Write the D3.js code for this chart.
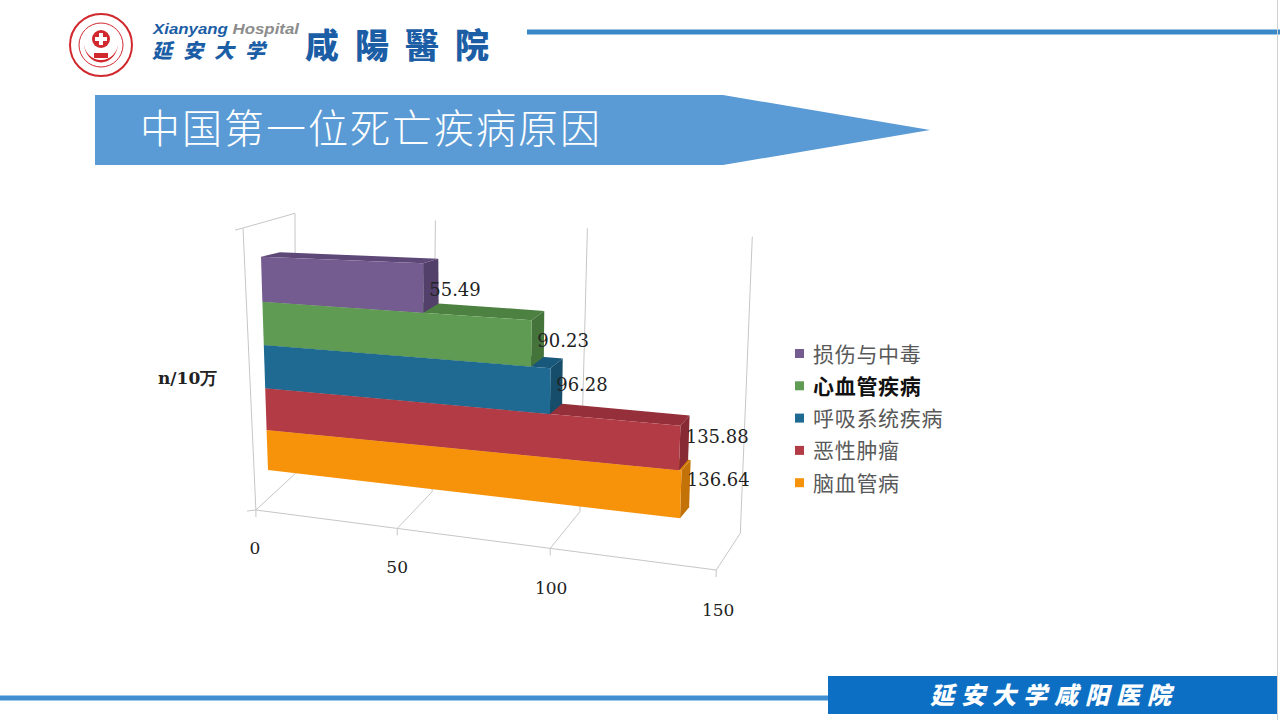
<!DOCTYPE html>
<html>
<head>
<meta charset="utf-8">
<script src="https://cdn.jsdelivr.net/npm/d3@7/dist/d3.min.js"></script>
<style>
body { margin: 0; background: #fff; }
svg { display: block; }
</style>
</head>
<body>
<svg id="svg" width="1280" height="720"></svg>
<script>
// data, bottom bar first
var categories = ["脑血管病", "恶性肿瘤", "呼吸系统疾病", "心血管疾病", "损伤与中毒"];
var values = [136.64, 135.88, 96.28, 90.23, 55.49];
var xTicks = [0, 50, 100, 150];
var unitLabel = "n/10万";
var title = "中国第一位死亡疾病原因";

var frontColors = ["#f7930b", "#b33b46", "#1f6a92", "#5f9b52", "#745b90"];
var topColors = ["#d47d08", "#952f39", "#18587a", "#4c8141", "#5e4878"];
var sideColors = ["#c27206", "#882a34", "#154d6b", "#44743a", "#52406a"];

var svg = d3.select("#svg");

// ---- header ----
var logo = svg.append("g").attr("transform", "translate(101,45)");
logo.append("circle").attr("r", 31).attr("fill", "#fff").attr("stroke", "#d1282e").attr("stroke-width", 2);
logo.append("circle").attr("r", 22).attr("fill", "none").attr("stroke", "#d1282e").attr("stroke-width", 1);
logo.append("path").attr("d", "M-17,-2 A17,17 0 0,0 17,-2 A14,16 0 0,1 -17,-2 Z").attr("fill", "#d1282e");
logo.append("circle").attr("cy", -6).attr("r", 9).attr("fill", "#d1282e");
logo.append("path").attr("d", "M-2,-12h4v4h4v4h-4v4h-4v-4h-4v-4h4z").attr("fill", "#fff");
logo.append("rect").attr("x", -7).attr("y", 8).attr("width", 14).attr("height", 5).attr("fill", "#d1282e");

svg.append("text").attr("x", 153).attr("y", 34)
  .attr("font-family", "Liberation Sans, Arial").attr("font-weight", "bold").attr("font-style", "italic")
  .attr("font-size", 14).attr("fill", "#1b5ea6")
  .attr("textLength", 146).attr("lengthAdjust", "spacingAndGlyphs")
  .text("Xianyang").append("tspan").attr("fill", "#8c8c8c").text(" Hospital");
svg.append("text").attr("x", 152).attr("y", 58)
  .attr("font-family", "Noto Sans CJK SC").attr("font-weight", "900").attr("font-size", 20)
  .attr("font-style", "italic").attr("fill", "#1b5ea6").attr("letter-spacing", 11).text("延安大学");
svg.append("text").attr("x", 305).attr("y", 58)
  .attr("font-family", "Noto Sans CJK TC").attr("font-weight", "900").attr("font-size", 34)
  .attr("fill", "#1b5ea6").attr("letter-spacing", 16).text("咸陽醫院");

svg.append("line").attr("x1", 527).attr("x2", 1280).attr("y1", 32).attr("y2", 32)
  .attr("stroke", "#3a88c8").attr("stroke-width", 5);

// ---- title banner ----
svg.append("path").attr("d", "M95,95 L723,95 L930,130 L723,165 L95,165 Z").attr("fill", "#5b9bd5");
svg.append("text").attr("x", 140).attr("y", 143)
  .attr("font-family", "Noto Sans CJK SC").attr("font-weight", "300").attr("font-size", 40)
  .attr("fill", "#fff").attr("letter-spacing", 2).text(title);

// ---- footer ----
svg.append("line").attr("x1", 0).attr("x2", 830).attr("y1", 698).attr("y2", 698)
  .attr("stroke", "#3f8fd2").attr("stroke-width", 5);
svg.append("rect").attr("x", 828).attr("y", 676).attr("width", 449).attr("height", 38).attr("fill", "#0c6fc4");
svg.append("text").attr("x", 1054).attr("y", 704).attr("text-anchor", "middle")
  .attr("font-family", "Noto Sans CJK SC").attr("font-weight", "900").attr("font-style", "italic")
  .attr("font-size", 24).attr("fill", "#fff").attr("letter-spacing", 7).text("延安大学咸阳医院");
svg.append("line").attr("x1", 1277.5).attr("x2", 1277.5).attr("y1", 0).attr("y2", 720)
  .attr("stroke", "#d0d0d0").attr("stroke-width", 1);

// ---- 3D projection ----
var u = d3.scaleLinear().domain([0, 150]).range([0, 1]);
function fx(v) { var t = u(v); return t / (1.128 * (1 - t) + t); }  // perspective along value axis

// walls
function floorFront(v) { var f = fx(v); return [255.9 + 460.3 * f, 510 + 60 * f]; }
function floorBack(v) { var f = fx(v); return [295.5 + 444.8 * f, 473.3 + 60 * f]; }
function backTop(v) { var f = fx(v); return [295 + 457.3 * f, 213.3 + 23.4 * f]; }
var leftFrontTop = [243, 228];

// bars: k = slot index 0 (floor) .. 5 (top of last bar), d = depth 0 front .. 1 back
var xL = d3.scaleLinear().domain([0, 5]).range([268, 261]);
var xR = d3.scaleLinear().domain([0, 5]).range([725.5, 734.5]);
var yL = d3.scaleLinear().domain([0, 1, 2, 3, 4, 5]).range([470, 430, 388.3, 345, 301.7, 256.7]);
var yR = d3.scaleLinear().domain([0, 1, 2, 3, 4, 5]).range([523.6, 475, 430, 382.7, 334, 276]);
var depthY = d3.scaleLinear().domain([0, 4, 5]).range([-11, -9.3, -4.5]);
function pt(v, k, d) {
  var f = fx(v);
  var x = xL(k) + f * (xR(k) - xL(k));
  var y = yL(k) + f * (yR(k) - yL(k));
  d = d || 0;
  return [x + d * (19 - 11 * f), y + d * depthY(k)];
}

var line = d3.line();
var grid = svg.append("g").attr("stroke", "#c6c6c6").attr("stroke-width", 1).attr("fill", "none");

// floor front edge
grid.append("path").attr("d", line([[247, 511]].concat(xTicks.map(floorFront))));
xTicks.forEach(function(t) {
  grid.append("path").attr("d", line([floorFront(t), floorBack(t)]));
  var p = floorFront(t);
  grid.append("path").attr("d", line([p, [p[0], p[1] + 7]]));
  grid.append("path").attr("d", line([floorBack(t), backTop(t)]));
});
// left wall
grid.append("path").attr("d", line([floorFront(0), leftFrontTop, backTop(0)]));
grid.append("path").attr("d", line([[235, 230], leftFrontTop]));

// tick labels
svg.append("g").selectAll("text").data(xTicks).enter().append("text")
  .attr("x", function(d) { return floorFront(d)[0] - 1 + 3 * fx(d); })
  .attr("y", function(d) { return floorFront(d)[1] + 44 + 2 * fx(d); })
  .attr("text-anchor", "middle")
  .attr("font-family", "DejaVu Serif").attr("font-size", 17).attr("fill", "#222")
  .text(function(d) { return d; });

// bars
var bars = svg.append("g");
values.forEach(function(v, k) {
  var g = bars.append("g");
  g.append("path").attr("fill", topColors[k])
    .attr("d", line([pt(0, k + 1, 0), pt(v, k + 1, 0), pt(v, k + 1, 1), pt(0, k + 1, 1)]) + "Z");
  g.append("path").attr("fill", sideColors[k])
    .attr("d", line([pt(v, k, 0), pt(v, k + 1, 0), pt(v, k + 1, 1), pt(v, k, 1)]) + "Z");
  g.append("path").attr("fill", frontColors[k])
    .attr("d", line([pt(0, k, 0), pt(v, k, 0), pt(v, k + 1, 0), pt(0, k + 1, 0)]) + "Z");
});

// value labels
svg.append("g").selectAll("text").data(values).enter().append("text")
  .attr("x", function(d, k) { return pt(d, k + 0.5)[0] + 6; })
  .attr("y", function(d, k) { return pt(d, k + 0.5)[1] + 6 - 17 + 4.3 * (k + 0.5); })
  .attr("font-family", "DejaVu Serif").attr("font-size", 18).attr("fill", "#222")
  .text(function(d) { return d.toFixed(2); });

// unit label
svg.append("text").attr("x", 158).attr("y", 384)
  .attr("font-family", "DejaVu Serif").attr("font-weight", "bold").attr("font-size", 17).attr("fill", "#222")
  .text(unitLabel);

// legend, top bar first
var legendIdx = d3.range(categories.length).reverse();
var legend = svg.append("g").selectAll("g").data(legendIdx).enter().append("g")
  .attr("transform", function(d, i) { return "translate(795," + (354 + i * 32.3) + ")"; });
legend.append("rect").attr("x", 0).attr("y", -5).attr("width", 9).attr("height", 9)
  .attr("fill", function(d) { return frontColors[d]; });
legend.append("text").attr("x", 18).attr("y", 7.5)
  .attr("font-family", "Noto Sans CJK SC").attr("font-size", 21).attr("letter-spacing", 0.7)
  .attr("font-weight", function(d) { return d === 3 ? "bold" : "normal"; })
  .attr("fill", function(d) { return d === 3 ? "#111" : "#595959"; })
  .text(function(d) { return categories[d]; });
</script>
</body>
</html>
